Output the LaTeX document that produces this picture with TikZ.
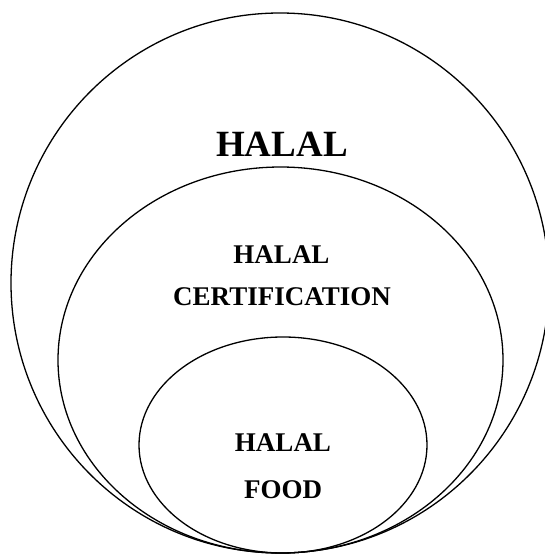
\documentclass[tikz,border=0pt]{standalone}
\usepackage{fontspec}
\setmainfont{Liberation Serif}
\begin{document}
\begin{tikzpicture}[x=1pt,y=-1pt,
  ring/.style={draw=black,line width=1.3pt},
  bigtext/.style={font=\fontsize{37}{44}\selectfont\bfseries,anchor=base,inner sep=0pt},
  smalltext/.style={font=\fontsize{27}{32}\selectfont\bfseries,anchor=base,inner sep=0pt}]
\useasboundingbox (0,0) rectangle (545,555);
\clip (0,0) rectangle (545,555);
\fill[white] (0,0) rectangle (545,555);
\draw[ring] (280,283) ellipse [x radius=269, y radius=270];
\draw[ring] (280.5,360) ellipse [x radius=222.5, y radius=193];
\draw[ring] (283,445) ellipse [x radius=144, y radius=108];
\node[bigtext] (halal) at (282,156) {HALAL};
\node[smalltext] (cert1) at (281.5,263) {HALAL};
\node[smalltext] (cert2) at (282,305) {CERTIFICATION};
\node[smalltext] (food1) at (283,451) {HALAL};
\node[smalltext] (food2) at (283,498) {FOOD};
\end{tikzpicture}
\end{document}
